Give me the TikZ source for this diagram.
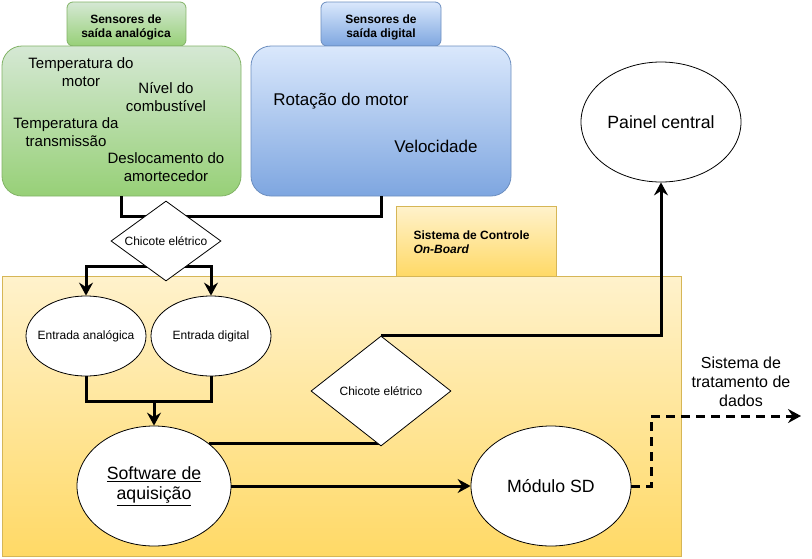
\documentclass[tikz,border=0pt]{standalone}
\usepackage{fontspec}
\setmainfont{Liberation Sans}
\usetikzlibrary{shapes.geometric,arrows.meta}
\pgfdeclarelayer{bg}
\pgfdeclarelayer{conn}
\pgfsetlayers{bg,conn,main}
\definecolor{gtop}{HTML}{D5E8D4}
\definecolor{gbot}{HTML}{97D077}
\definecolor{gline}{HTML}{82B366}
\definecolor{btop}{HTML}{DAE8FC}
\definecolor{bbot}{HTML}{7EA6E0}
\definecolor{bline}{HTML}{6C8EBF}
\definecolor{ytop}{HTML}{FFF2CC}
\definecolor{ybot}{HTML}{FFD966}
\definecolor{yline}{HTML}{D6B656}
\begin{document}
\begin{tikzpicture}[x=1pt,y=-1pt,
  gbox/.style={rectangle, draw=gline, top color=gtop, bottom color=gbot, line width=0.8pt, inner sep=0pt},
  bbox/.style={rectangle, draw=bline, top color=btop, bottom color=bbot, line width=0.8pt, inner sep=0pt},
  ybox/.style={rectangle, draw=yline, top color=ytop, bottom color=ybot, line width=0.8pt, inner sep=0pt},
  tabtxt/.style={align=center, font=\bfseries\fontsize{12}{14}\selectfont},
  gtxt/.style={align=center, font=\fontsize{15}{18}\selectfont},
  btxt/.style={align=center, font=\fontsize{17}{20}\selectfont},
  ell/.style={ellipse, draw, fill=white, line width=0.8pt, inner sep=0pt, align=center},
  dia/.style={diamond, draw, fill=white, line width=0.8pt, inner sep=0pt, align=center, font=\fontsize{12}{14}\selectfont},
  small/.style={font=\fontsize{12}{14}\selectfont},
  big/.style={font=\fontsize{17.7}{20.5}\selectfont},
  wire/.style={line width=3pt},
  arr/.style={wire, -{Stealth[length=13pt,width=14pt,inset=4.5pt]}}
]
\useasboundingbox (0,0) rectangle (812,558);

\begin{pgfonlayer}{bg}
  % analog sensors
  \node[gbox, rounded corners=6pt, minimum width=119pt, minimum height=44pt] (gtab) at (126.5,24) {};
  \node[gbox, rounded corners=20pt, minimum width=239pt, minimum height=150pt] (gmain) at (121.5,121) {};
  % digital sensors
  \node[bbox, rounded corners=6pt, minimum width=120pt, minimum height=44pt] (btab) at (381,24) {};
  \node[bbox, rounded corners=20pt, minimum width=260pt, minimum height=150pt] (bmain) at (381,121) {};
  % on-board system
  \node[ybox, minimum width=160pt, minimum height=70pt] (ytab) at (476,241) {};
  \node[ybox, minimum width=679pt, minimum height=280pt] (ymain) at (341.5,416) {};
\end{pgfonlayer}

% tab labels
\node[tabtxt] (gtabt) at (126,27) {Sensores de\\saída analógica};
\node[tabtxt] (btabt) at (381,27) {Sensores de\\saída digital};
\node[anchor=west, align=left, font=\bfseries\fontsize{12}{14}\selectfont] (ytabt) at (410,242) {Sistema de Controle\\\textit{On-Board}};

% sensor texts
\node[gtxt] (t1) at (81,72) {Temperatura do\\motor};
\node[gtxt] (t2) at (166,97) {Nível do\\combustível};
\node[gtxt] (t3) at (66,132) {Temperatura da\\transmissão};
\node[gtxt] (t4) at (166,167) {Deslocamento do\\amortecedor};
\node[btxt] (t5) at (341,101.5) {Rotação do motor};
\node[btxt] (t6) at (436,146.5) {Velocidade};

% nodes
\node[dia, minimum width=110pt, minimum height=80pt] (ch1) at (166,241) {\makebox[0pt]{Chicote elétrico}};
\node[ell, small, minimum width=120pt, minimum height=80pt] (ea) at (86,336) {\makebox[0pt]{Entrada analógica}};
\node[ell, small, minimum width=120pt, minimum height=80pt] (ed) at (211,336) {\makebox[0pt]{Entrada digital}};
\node[ell, big, minimum width=154pt, minimum height=120pt] (sw) at (154,486) {\underline{Software de}\\\underline{aquisição}};
\node[ell, big, minimum width=160pt, minimum height=120pt] (sd) at (551,486) {Módulo SD};
\node[ell, big, minimum width=160pt, minimum height=120pt] (pc) at (661,122) {Painel central};
\node[dia, minimum width=140pt, minimum height=110pt] (ch2) at (381,391) {\makebox[0pt]{Chicote elétrico}};
\node[align=center, font=\fontsize{16}{19}\selectfont] (trat) at (741,382) {Sistema de\\tratamento de\\dados};

\coordinate (j1) at (121.5,216);
\coordinate (j2) at (166,266);
\coordinate (j3) at (154,401);
\coordinate (j5) at (651,416);
\coordinate (out) at (801,416);

\begin{pgfonlayer}{conn}
  \draw[wire] (gmain.south) -- (j1) -| (bmain.south);
  \draw[arr] (j2) -| (ea.north);
  \draw[arr] (j2) -| (ed.north);
  \draw[wire, line cap=rect] (ea.south) |- (j3);
  \draw[wire, line cap=rect] (ed.south) |- (j3);
  \draw[arr] (j3) -- (sw.north);
  \draw[arr] (sw.east) -- (sd.west);
  \draw[wire] (sw.north east) -- (sw.north east -| ch2.south);
  \draw[arr] (ch2.north) -| (pc.south);
  \draw[arr, dash pattern=on 9pt off 6pt] (sd.east) -| (j5) -- (out);
\end{pgfonlayer}
\end{tikzpicture}
\end{document}
